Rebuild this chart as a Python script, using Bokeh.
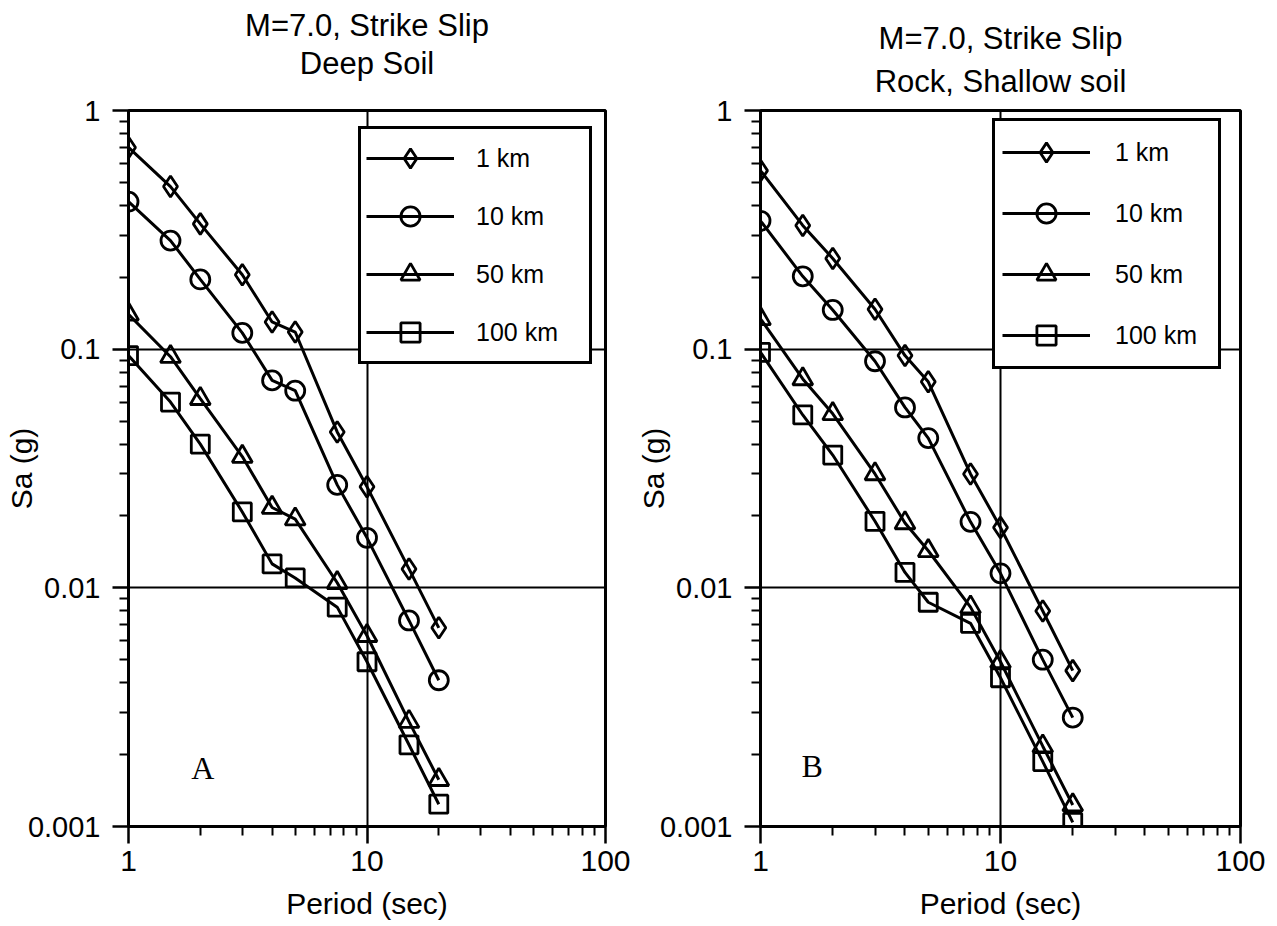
from bokeh.plotting import figure
from bokeh.models import FixedTicker, CustomJSTickFormatter, Legend, LegendItem, Title, Label
from bokeh.layouts import row
from bokeh.embed import file_html
from bokeh.resources import INLINE

# ---------------- data ----------------
periods = [1, 1.5, 2, 3, 4, 5, 7.5, 10, 15, 20]
distance_labels = ["1 km", "10 km", "50 km", "100 km"]

deep_1km = [0.70, 0.48, 0.335, 0.205, 0.130, 0.118, 0.045, 0.0265, 0.0120, 0.0068]
deep_10km = [0.415, 0.285, 0.196, 0.117, 0.074, 0.067, 0.027, 0.0162, 0.0073, 0.0041]
deep_50km = [0.140, 0.093, 0.062, 0.0355, 0.0217, 0.0194, 0.0105, 0.0063, 0.00275, 0.00157]
deep_100km = [0.094, 0.060, 0.040, 0.0208, 0.0126, 0.0110, 0.0083, 0.0049, 0.0022, 0.00124]

rock_1km = [0.56, 0.33, 0.24, 0.147, 0.094, 0.073, 0.030, 0.0179, 0.0080, 0.0045]
rock_10km = [0.345, 0.202, 0.146, 0.089, 0.057, 0.0424, 0.0189, 0.0115, 0.0050, 0.00286]
rock_50km = [0.134, 0.075, 0.0536, 0.030, 0.0187, 0.0143, 0.0083, 0.0049, 0.00217, 0.00123]
rock_100km = [0.097, 0.053, 0.036, 0.019, 0.0116, 0.0087, 0.0071, 0.0042, 0.00187, 0.00104]

x_major_ticks = [1, 10, 100]
x_minor_ticks = [2, 3, 4, 5, 6, 7, 8, 9, 20, 30, 40, 50, 60, 70, 80, 90]
y_major_ticks = [0.001, 0.01, 0.1, 1]
y_minor_ticks = [0.002, 0.003, 0.004, 0.005, 0.006, 0.007, 0.008, 0.009,
                 0.02, 0.03, 0.04, 0.05, 0.06, 0.07, 0.08, 0.09,
                 0.2, 0.3, 0.4, 0.5, 0.6, 0.7, 0.8, 0.9]

# ---------------- style ----------------
FONT = "Liberation Sans"
markers = [("diamond", 21), ("circle", 19), ("triangle", 20), ("square", 18)]


def make_panel(title1, title2, series, letter, letter_x, letter_y, width,
               borders, legend_loc, legend_pad, legend_spacing, glyph_w,
               label_standoff, label_w, title_gaps):
    left, right, top, bottom = borders
    p = figure(width=width, height=926, x_axis_type="log", y_axis_type="log",
               x_range=(1, 100), y_range=(0.001, 1),
               output_backend="svg", toolbar_location=None,
               min_border_left=left, min_border_right=right,
               min_border_top=top, min_border_bottom=bottom,
               background_fill_color="white", border_fill_color="white")

    p.outline_line_color = "black"
    p.outline_line_width = 3
    p.outline_line_alpha = 1.0

    fmt = CustomJSTickFormatter(code="return tick.toString();")
    xa = p.xaxis[0]
    ya = p.yaxis[0]
    xa.ticker = FixedTicker(ticks=x_major_ticks, minor_ticks=x_minor_ticks)
    ya.ticker = FixedTicker(ticks=y_major_ticks, minor_ticks=y_minor_ticks)
    xa.formatter = fmt
    ya.formatter = fmt
    for ax in (xa, ya):
        ax.axis_line_width = 3
        ax.axis_line_color = "black"
        ax.major_tick_in = 0
        ax.minor_tick_in = 0
        ax.major_tick_line_width = 2.5
        ax.minor_tick_line_width = 2
        ax.major_tick_line_color = "black"
        ax.minor_tick_line_color = "black"
        ax.major_label_text_font = FONT
        ax.major_label_text_color = "black"
        ax.axis_label_text_font = FONT
        ax.axis_label_text_font_style = "normal"
        ax.axis_label_text_font_size = "30px"
        ax.axis_label_text_color = "black"
    xa.major_tick_out = 17
    xa.minor_tick_out = 9
    ya.major_tick_out = 16
    ya.minor_tick_out = 9
    xa.major_label_text_font_size = "30px"
    ya.major_label_text_font_size = "29px"
    xa.major_label_standoff = 7
    ya.major_label_standoff = 12
    xa.axis_label_standoff = 13
    ya.axis_label_standoff = -13
    xa.axis_label = "Period (sec)"
    ya.axis_label = "Sa (g)"

    p.xgrid.ticker = FixedTicker(ticks=[10])
    p.ygrid.ticker = FixedTicker(ticks=[0.01, 0.1])
    for g in (p.xgrid[0], p.ygrid[0]):
        g.grid_line_color = "black"
        g.grid_line_width = 2
        g.grid_line_alpha = 1.0

    items = []
    for (label, values), (mk, size) in zip(zip(distance_labels, series), markers):
        lr = p.line(periods, values, line_color="black", line_width=3)
        sr = p.scatter(periods, values, marker=mk, size=size, fill_color=None,
                       line_color="black", line_width=2.8)
        items.append(LegendItem(label=label, renderers=[lr, sr]))

    legend = Legend(items=items, location=legend_loc, orientation="vertical",
                    padding=legend_pad, spacing=legend_spacing,
                    glyph_width=glyph_w, glyph_height=48,
                    label_standoff=label_standoff, label_width=label_w,
                    label_text_font=FONT, label_text_font_size="25px",
                    label_text_color="black",
                    border_line_color="black", border_line_width=3,
                    border_line_alpha=1.0,
                    background_fill_color="white", background_fill_alpha=1.0,
                    margin=0)
    p.add_layout(legend, "center")

    p.add_layout(Label(x=letter_x, y=letter_y, text=letter, text_align="center",
                       text_baseline="middle", text_font="Liberation Serif",
                       text_font_size="32px", text_color="black"))

    gap, s2, s1 = title_gaps
    # spacer between the frame and the two title lines
    p.add_layout(Title(text=" ", text_font_size="1px", standoff=gap), "above")
    p.add_layout(Title(text=title2, align="center", text_font=FONT,
                       text_font_size="31px", text_font_style="normal",
                       text_color="black", standoff=s2), "above")
    p.add_layout(Title(text=title1, align="center", text_font=FONT,
                       text_font_size="31px", text_font_style="normal",
                       text_color="black", standoff=s1), "above")
    return p


p1 = make_panel("M=7.0, Strike Slip", "Deep Soil",
                [deep_1km, deep_10km, deep_50km, deep_100km],
                "A", 2.05, 0.00176, 632, (128, 27, 110, 100),
                (230, 462), 5, 10, 88, 22, 108, (26, 1, 1))
p2 = make_panel("M=7.0, Strike Slip", "Rock, Shallow soil",
                [rock_1km, rock_10km, rock_50km, rock_100km],
                "B", 1.64, 0.00179, 645, (128, 37, 110, 100),
                (232, 457), 7, 13, 88, 25, 96, (5, 7, 6))

layout = row(p1, p2)
open("out.html", "w").write(file_html(layout, INLINE))
